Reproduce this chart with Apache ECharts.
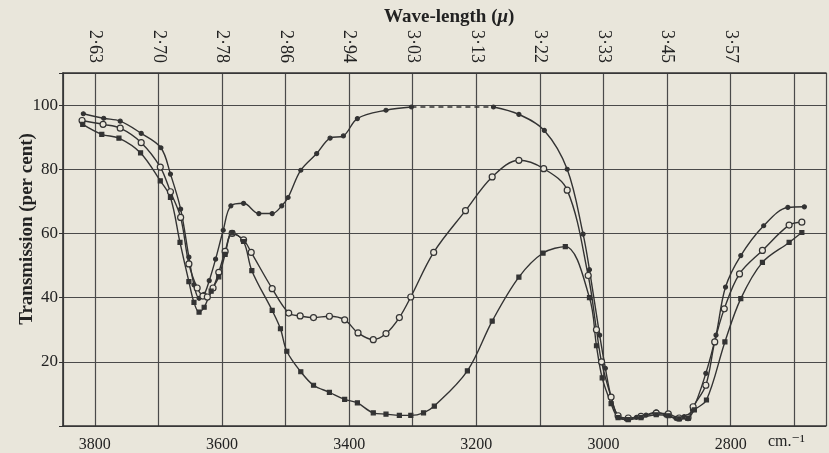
<!DOCTYPE html>
<html>
<head>
<meta charset="utf-8">
<script src="https://cdn.jsdelivr.net/npm/echarts@6/dist/echarts.min.js"></script>
<style>
  html, body { margin: 0; padding: 0; background: #e9e6db; }
  #chart { width: 829px; height: 453px; }
</style>
</head>
<body>
<div id="chart"></div>
<script>
// wave-number (cm-1), transmission (per cent)
var curveA1 = [[3818,97.3],[3786,95.9],[3760,95.0],[3727,91.2],[3696,86.7],[3681,78.5],[3665,67.6],[3652,52.6],
    [3644,44],[3636,39.8],[3628,41],[3620,45.3],[3610,52],[3598,61],[3586,68.6],[3566,69.4],[3542,66.2],[3521,66.2],
    [3506,68.6],[3496,71.2],[3476,79.7],[3451,84.9],[3430,89.7],[3409,90.4],[3387,95.8],[3342,98.4],[3302,99.4]];
var curveA2 = [[3173,99.4],[3133,97.1],[3093,92.1],[3057,80.0],[3032,59.8],[3022,48.7],[3006,28.3],[2997,18],
    [2988,9.1],[2977,2.9],[2964,2.1],[2948,2.7],[2933,3.4],[2917,4.4],[2902,3.4],[2886,2.4],[2873,2.9],[2860,5.0],
    [2839,16.4],[2823,28.3],[2808,43.3],[2784,53.1],[2748,62.4],[2710,68.1],[2684,68.3]];
var curveB = [[3820,95.2],[3787,94.0],[3760,92.8],[3727,88.3],[3697,80.7],[3681,73],[3665,65],[3652,50.5],
    [3639,43],[3630,40.5],[3623,40.2],[3614,43],[3605,47.9],[3595,54.4],[3584,60],[3566,58],[3554,54.1],[3521,42.8],
    [3495,35.2],[3477,34.3],[3456,33.8],[3431,34.2],[3407,33.1],[3386,29.0],[3362,26.9],[3342,28.8],[3321,33.8],
    [3303,40.2],[3267,54.1],[3217,67.1],[3175,77.6],[3133,82.8],[3094,80.2],[3057,73.5],[3024,46.9],[3011,30],
    [3003,20],[2988,9],[2977,3.2],[2961,2.5],[2941,3.0],[2917,4.0],[2898,3.8],[2881,2.5],[2867,2.6],[2859,6.0],
    [2839,12.7],[2825,26.2],[2810,36.5],[2786,47.4],[2750,54.7],[2708,62.6],[2688,63.5]];
var curveC = [[3819,94.0],[3789,90.9],[3762,89.7],[3728,85.1],[3697,76.4],[3681,71.2],[3666,57.2],[3652,45],
    [3644,38.5],[3636,35.5],[3628,37],[3617,42],[3605,46.5],[3595,53.5],[3584,60.2],[3566,57.5],[3553,48.4],
    [3521,36],[3508,30.3],[3498,23.3],[3476,16.9],[3456,12.7],[3431,10.5],[3407,8.3],[3387,7.2],[3362,4.1],
    [3342,3.7],[3321,3.3],[3303,3.3],[3283,4.1],[3266,6.2],[3214,17.2],[3175,32.7],[3133,46.4],[3095,53.9],
    [3060,55.9],[3022,40],[3011,25],[3002,15],[2988,7],[2977,2.6],[2961,2.0],[2941,2.6],[2917,3.5],[2898,3.2],
    [2881,2.2],[2867,2.4],[2857,5.0],[2838,8.1],[2809,26.2],[2784,39.7],[2750,51.0],[2708,57.2],[2688,60.3]];

var bottomLabels = [3800, 3600, 3400, 3200, 3000, 2800];
var topTicks = [3800, 3700, 3600, 3500, 3400, 3300, 3200, 3100, 3000, 2900, 2800];
var topLabels = ['2·63', '2·70', '2·78', '2·86', '2·94', '3·03', '3·13', '3·22', '3·33', '3·45', '3·57'];
var yLabels = [20, 40, 60, 80, 100];

var ink = '#333';
var paper = '#e9e6db';
var serif = '"Liberation Serif", "DejaVu Serif", serif';
var dashed = [curveA1[curveA1.length - 1], curveA2[0]];

var chart = echarts.init(document.getElementById('chart'));

function lineSeries(data, symbol, size, fill) {
    return {
        type: 'line',
        data: data,
        smooth: 0.35,
        color: ink,
        symbol: symbol,
        symbolSize: size,
        showAllSymbol: true,
        lineStyle: { color: ink, width: 1.4 },
        itemStyle: { color: fill, borderColor: ink, borderWidth: 1.2 },
        z: 3
    };
}

var xBase = {
    type: 'value',
    min: 2650,
    max: 3850,
    inverse: true,
    splitNumber: 12,
    minInterval: 100,
    maxInterval: 100
};

var option = {
    backgroundColor: paper,
    animation: false,
    title: {
        text: '{b|Wave-length (}{i|μ}{b|)}',
        left: 379,
        top: 3,
        textStyle: {
            rich: {
                b: { fontFamily: serif, fontSize: 19, fontWeight: 'bold', color: '#222' },
                i: { fontFamily: serif, fontSize: 19, fontStyle: 'italic', fontWeight: 'bold', color: '#222' }
            }
        }
    },
    grid: { left: 63, top: 73, right: -2, bottom: 27 },
    xAxis: [
        Object.assign({}, xBase, {
            position: 'bottom',
            axisLine: { show: true, lineStyle: { color: ink, width: 1.6 } },
            axisTick: { show: false },
            splitLine: { show: true, lineStyle: { color: '#4a4a4a', width: 1.2 } },
            axisLabel: {
                margin: 11,
                fontFamily: serif, fontSize: 16, color: '#222',
                formatter: function (v) {
                    return bottomLabels.indexOf(Math.round(v)) >= 0 ? String(Math.round(v)) : '';
                }
            }
        }),
        Object.assign({}, xBase, {
            position: 'top',
            axisLine: { show: true, lineStyle: { color: ink, width: 1.6 } },
            axisTick: { show: false },
            splitLine: { show: false },
            axisLabel: {
                rotate: 90,
                margin: 10,
                fontFamily: serif, fontSize: 18, color: '#222',
                formatter: function (v) {
                    var i = topTicks.indexOf(Math.round(v));
                    return i >= 0 ? topLabels[i] : '';
                }
            }
        })
    ],
    yAxis: {
        type: 'value',
        min: 0,
        max: 110,
        interval: 20,
        axisLine: { show: true, lineStyle: { color: ink, width: 1.6 } },
        axisTick: { show: true, length: 4, lineStyle: { color: ink } },
        splitLine: { show: true, lineStyle: { color: '#4a4a4a', width: 1.2 } },
        axisLabel: {
            margin: 5,
            fontFamily: serif, fontSize: 17, color: '#222',
            formatter: function (v) {
                return yLabels.indexOf(v) >= 0 ? String(v) : '';
            }
        }
    },
    graphic: [
        {
            type: 'text',
            x: 27,
            y: 229,
            rotation: Math.PI / 2,
            style: {
                text: 'Transmission (per cent)',
                font: 'bold 19px ' + serif,
                fill: '#222',
                align: 'center',
                verticalAlign: 'middle'
            }
        },
        {
            type: 'text',
            left: 768,
            top: 434,
            style: { text: 'cm.⁻¹', font: '16px ' + serif, fill: '#222' }
        }
    ],
    series: [
        lineSeries(curveA1, 'circle', 4, ink),
        {
            type: 'line',
            data: dashed,
            color: ink,
            symbol: 'none',
            lineStyle: { color: ink, width: 1.4, type: [5, 4] },
            z: 3
        },
        lineSeries(curveA2, 'circle', 4, ink),
        lineSeries(curveB, 'circle', 6, paper),
        lineSeries(curveC, 'rect', 4, ink)
    ]
};

chart.setOption(option);
</script>
</body>
</html>
